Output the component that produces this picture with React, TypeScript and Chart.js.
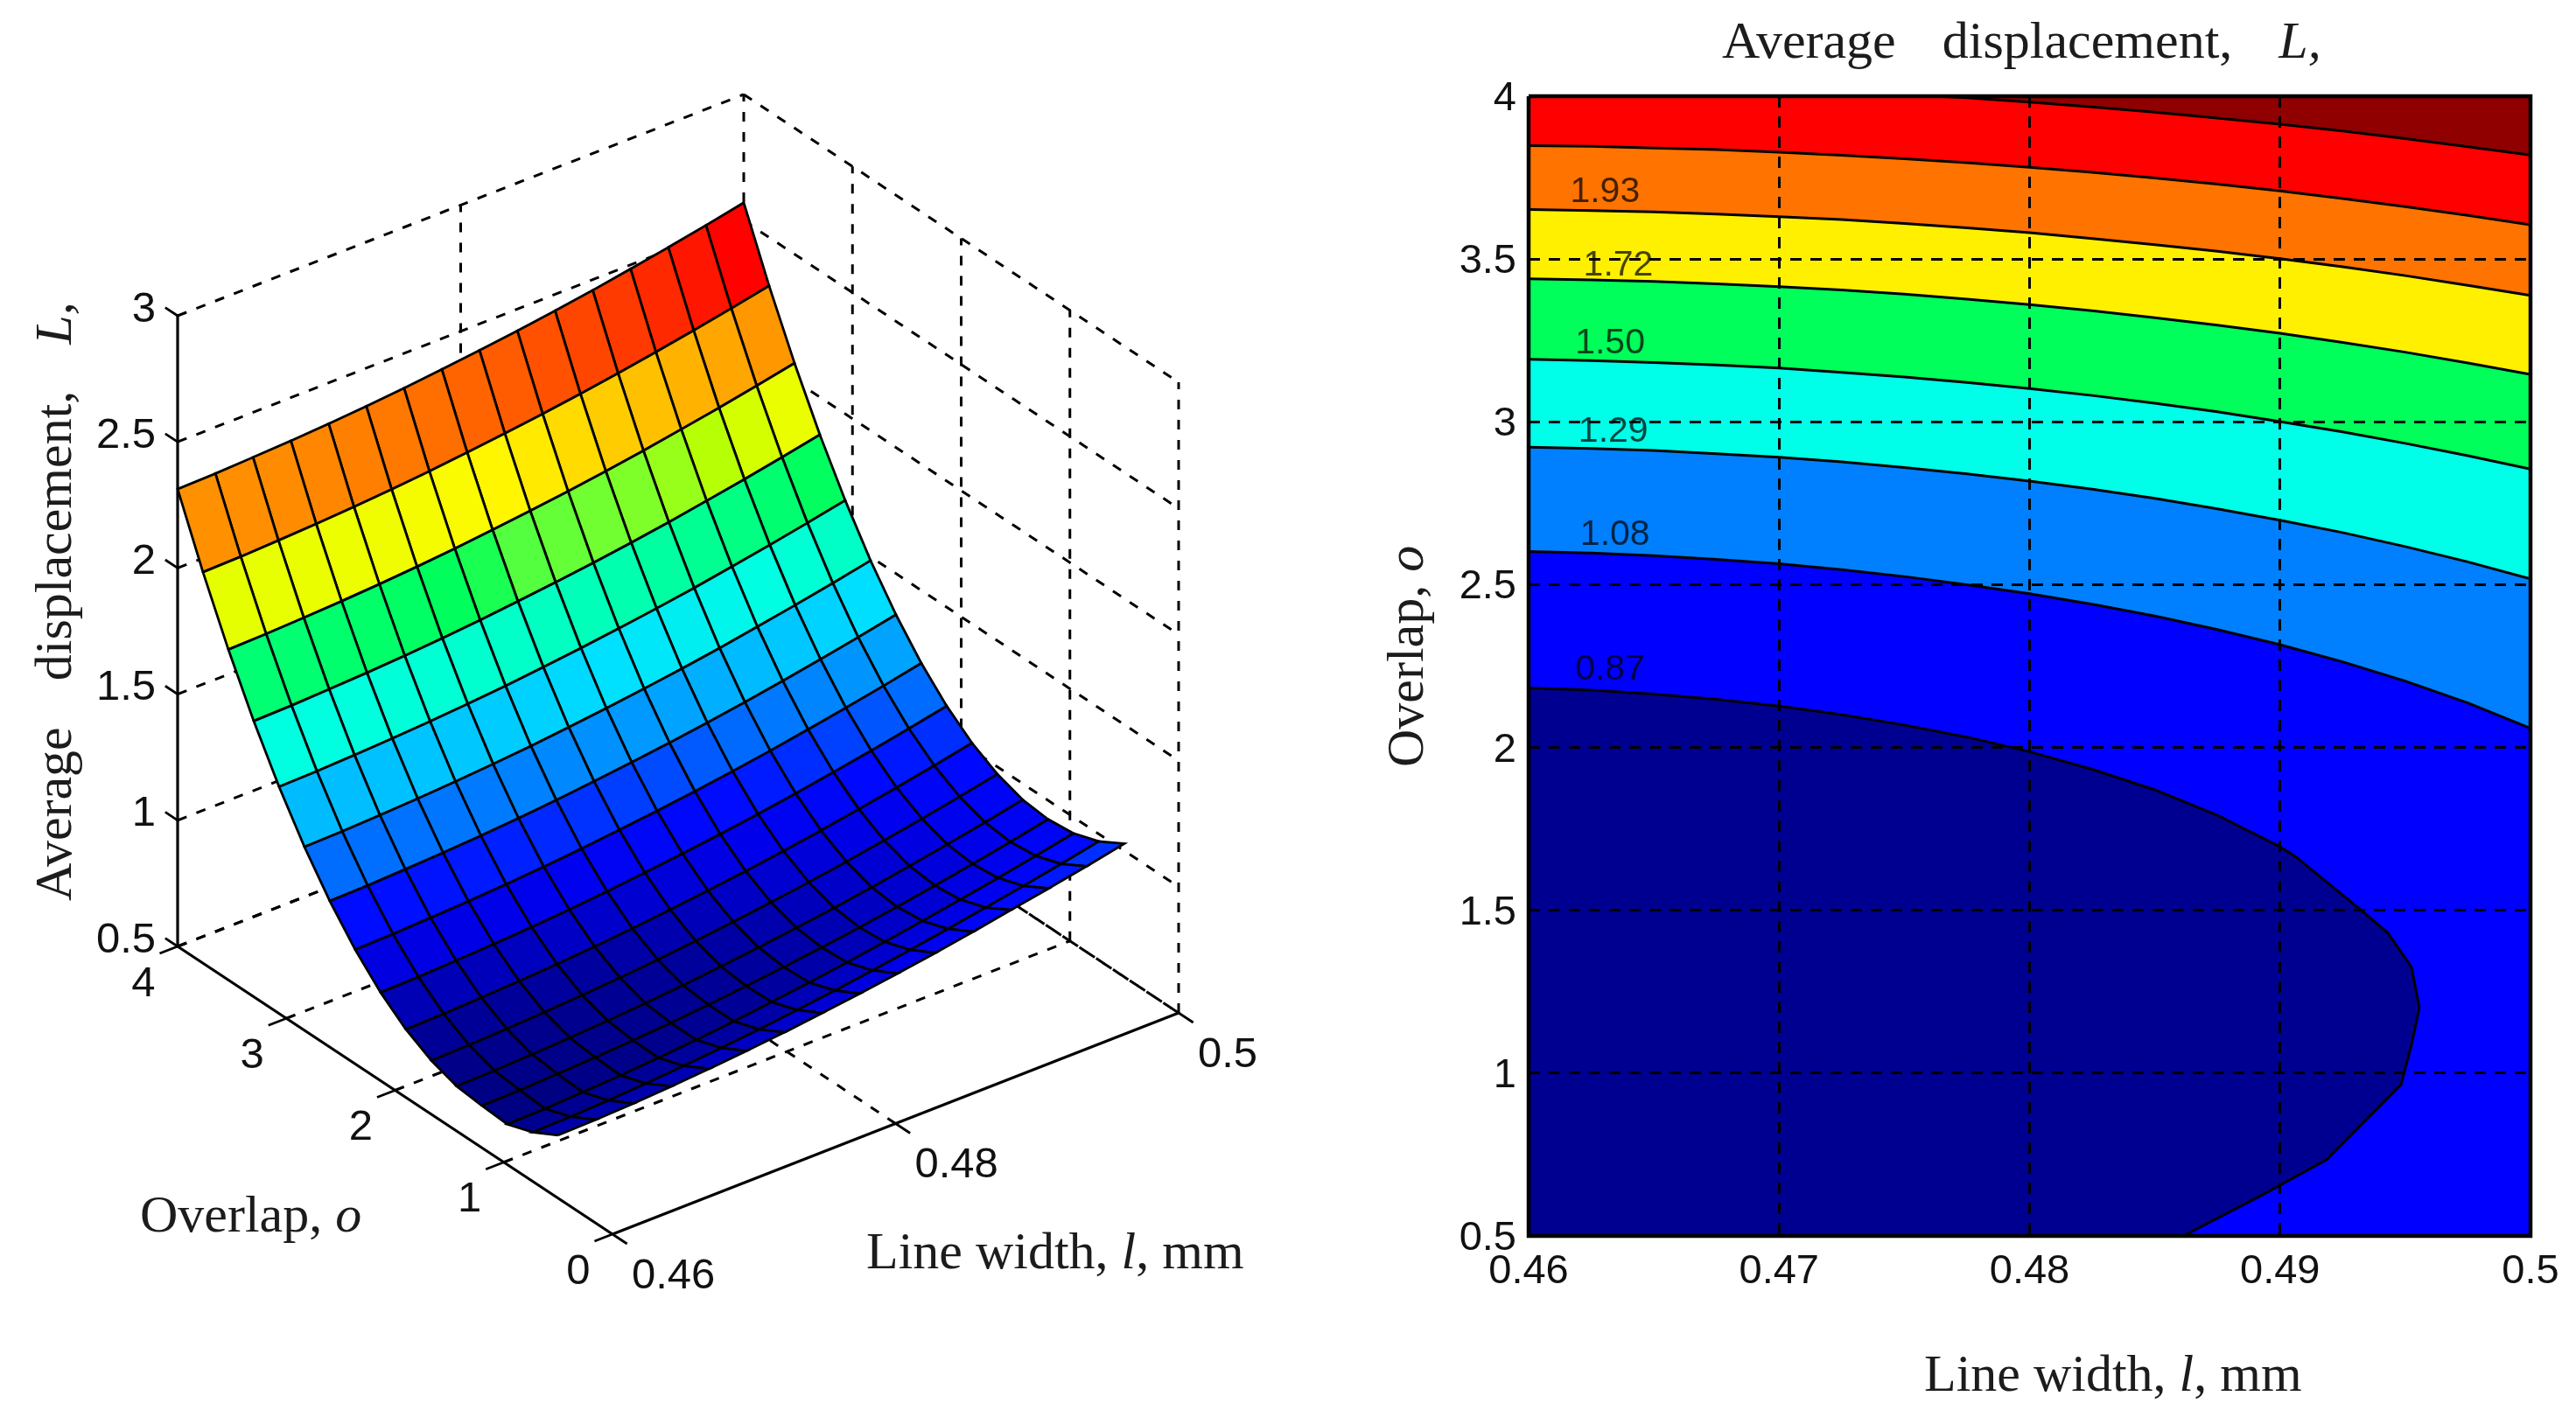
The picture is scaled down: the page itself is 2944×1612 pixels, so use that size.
import React, { useEffect, useRef } from "react";
import { Chart, registerables } from "chart.js";

Chart.register(...registerables);

// ---------- surface data ----------
const lineWidths = [0.46, 0.46267, 0.46533, 0.468, 0.47067, 0.47333, 0.476, 0.47867, 0.48133, 0.484, 0.48667, 0.48933, 0.492, 0.49467, 0.49733, 0.5];
const overlaps = [0.5, 0.7333, 0.9667, 1.2, 1.4333, 1.6667, 1.9, 2.1333, 2.3667, 2.6, 2.8333, 3.0667, 3.3, 3.5333, 3.7667, 4];
const surfaceZ = [
  [0.750, 0.753, 0.759, 0.768, 0.779, 0.792, 0.807, 0.825, 0.844, 0.865, 0.888, 0.913, 0.941, 0.968, 0.997, 1.028],
  [0.695, 0.698, 0.704, 0.713, 0.724, 0.737, 0.752, 0.770, 0.789, 0.810, 0.833, 0.858, 0.884, 0.911, 0.940, 0.971],
  [0.660, 0.663, 0.670, 0.678, 0.689, 0.702, 0.717, 0.735, 0.754, 0.775, 0.798, 0.823, 0.849, 0.876, 0.905, 0.936],
  [0.667, 0.670, 0.676, 0.683, 0.692, 0.703, 0.716, 0.732, 0.749, 0.768, 0.789, 0.812, 0.838, 0.865, 0.894, 0.925],
  [0.678, 0.681, 0.687, 0.694, 0.703, 0.714, 0.727, 0.743, 0.760, 0.779, 0.800, 0.823, 0.849, 0.876, 0.905, 0.936],
  [0.713, 0.716, 0.722, 0.729, 0.738, 0.749, 0.762, 0.778, 0.795, 0.814, 0.835, 0.858, 0.884, 0.911, 0.940, 0.971],
  [0.770, 0.773, 0.779, 0.786, 0.795, 0.806, 0.819, 0.835, 0.852, 0.871, 0.892, 0.915, 0.941, 0.968, 0.997, 1.028],
  [0.850, 0.853, 0.859, 0.866, 0.875, 0.886, 0.899, 0.915, 0.932, 0.951, 0.972, 0.995, 1.021, 1.048, 1.077, 1.108],
  [0.953, 0.956, 0.962, 0.969, 0.978, 0.989, 1.002, 1.018, 1.035, 1.054, 1.075, 1.098, 1.124, 1.151, 1.180, 1.211],
  [1.079, 1.082, 1.088, 1.095, 1.104, 1.115, 1.128, 1.144, 1.161, 1.180, 1.201, 1.224, 1.250, 1.277, 1.306, 1.337],
  [1.227, 1.230, 1.236, 1.243, 1.252, 1.263, 1.276, 1.292, 1.309, 1.328, 1.349, 1.372, 1.398, 1.425, 1.454, 1.485],
  [1.399, 1.402, 1.408, 1.415, 1.424, 1.435, 1.448, 1.464, 1.481, 1.500, 1.521, 1.544, 1.570, 1.597, 1.626, 1.657],
  [1.593, 1.596, 1.602, 1.609, 1.618, 1.629, 1.642, 1.658, 1.675, 1.694, 1.715, 1.738, 1.764, 1.791, 1.820, 1.851],
  [1.810, 1.813, 1.819, 1.826, 1.835, 1.846, 1.859, 1.875, 1.892, 1.911, 1.932, 1.955, 1.981, 2.008, 2.037, 2.068],
  [2.050, 2.053, 2.059, 2.066, 2.075, 2.086, 2.099, 2.115, 2.132, 2.151, 2.172, 2.195, 2.221, 2.248, 2.277, 2.308],
  [2.313, 2.316, 2.322, 2.329, 2.338, 2.349, 2.362, 2.378, 2.395, 2.414, 2.435, 2.458, 2.484, 2.511, 2.540, 2.571],
];
const zTicks = [0.5, 1, 1.5, 2, 2.5, 3];
const overlapTicks3d = [0, 1, 2, 3, 4];
const lineWidthTicks3d = [0.46, 0.48, 0.5];

// colour table read from the surface cells
const colourZ = [0.66, 0.74, 0.80, 0.87, 0.95, 1.08, 1.23, 1.31, 1.40, 1.50, 1.60, 1.635, 1.66, 1.72, 1.77, 1.81, 1.87, 1.93, 2.05, 2.115, 2.2, 2.28, 2.6];
const colourR = [0, 0, 0, 0, 0, 0, 0, 0, 0, 0, 0, 0, 90, 130, 190, 230, 255, 255, 255, 255, 255, 255, 255];
const colourG = [0, 0, 0, 0, 10, 110, 190, 225, 255, 255, 255, 255, 255, 255, 255, 255, 250, 205, 145, 100, 55, 0, 0];
const colourB = [130, 160, 200, 235, 255, 255, 255, 255, 225, 175, 110, 90, 60, 40, 0, 0, 0, 0, 0, 0, 0, 0, 0];

// ---------- contour data ----------
const contourL = [0.46, 0.4625, 0.465, 0.4675, 0.47, 0.4725, 0.475, 0.4775, 0.48, 0.4825, 0.485, 0.4875, 0.49, 0.4925, 0.495, 0.4975, 0.5];
const aL = [0.4762, 0.4775, 0.48, 0.4825, 0.485, 0.4875, 0.49, 0.4925, 0.495, 0.4975, 0.5];
const aO = [4, 3.995, 3.982, 3.967, 3.951, 3.933, 3.914, 3.893, 3.87, 3.845, 3.819];
const bO = [3.848, 3.846, 3.841, 3.836, 3.828, 3.819, 3.808, 3.796, 3.782, 3.766, 3.749, 3.73, 3.709, 3.686, 3.661, 3.634, 3.605];
const cO = [3.652, 3.649, 3.645, 3.638, 3.63, 3.621, 3.609, 3.596, 3.581, 3.563, 3.544, 3.524, 3.501, 3.476, 3.449, 3.419, 3.388];
const dO = [3.439, 3.436, 3.431, 3.424, 3.415, 3.405, 3.392, 3.377, 3.36, 3.341, 3.32, 3.297, 3.272, 3.244, 3.214, 3.181, 3.146];
const eO = [3.192, 3.188, 3.182, 3.175, 3.165, 3.152, 3.138, 3.121, 3.102, 3.081, 3.057, 3.031, 3.001, 2.969, 2.934, 2.896, 2.855];
const fO = [2.922, 2.918, 2.912, 2.902, 2.891, 2.877, 2.86, 2.84, 2.818, 2.793, 2.765, 2.733, 2.698, 2.66, 2.617, 2.57, 2.518];
const gO = [2.602, 2.597, 2.589, 2.578, 2.564, 2.546, 2.525, 2.5, 2.472, 2.44, 2.404, 2.362, 2.316, 2.263, 2.204, 2.137, 2.059];
const hL = [0.46, 0.4625, 0.465, 0.4675, 0.47, 0.4725, 0.475, 0.4775, 0.48, 0.4825, 0.485, 0.4875, 0.49, 0.4906, 0.49326, 0.49431, 0.49525, 0.49556, 0.49525, 0.49483, 0.49186, 0.48924, 0.48613];
const hO = [2.183, 2.176, 2.164, 2.148, 2.127, 2.101, 2.069, 2.032, 1.987, 1.933, 1.87, 1.792, 1.695, 1.666, 1.499, 1.43, 1.325, 1.201, 1.088, 0.965, 0.734, 0.624, 0.5];
const bandColours = ["#ff0000", "#ff7300", "#fff000", "#00ff5a", "#00ffe8", "#0080ff", "#0000ff", "#000090"];
const topColour = "#900000";
const levelLabels = ["1.93", "1.72", "1.50", "1.29", "1.08", "0.87"];
const levelLabelL = [0.46305, 0.46358, 0.46325, 0.46338, 0.46345, 0.46325];
const levelLabelO = [3.71, 3.484, 3.245, 2.974, 2.657, 2.243];

// ---------- layout ----------
const W = 2944;
const H = 1612;
const LEFT_W = 1560;
const SERIF = '"Liberation Serif"';
const SANS = '"Liberation Sans"';
const TEXT = "#1c1c1c";

const project = (l: number, o: number, z: number) => {
  const tl = (l - 0.46) / 0.04;
  const to = o / 4;
  return {
    x: 700 + 647 * tl - 497 * to,
    y: 1411 - 253 * tl - 329 * to - 288.4 * (z - 0.5),
  };
};

const colourOf = (z: number) => {
  let k = 0;
  while (k < colourZ.length - 2 && z > colourZ[k + 1]) k++;
  const f = Math.max(0, Math.min(1, (z - colourZ[k]) / (colourZ[k + 1] - colourZ[k])));
  const m = (a: number[]) => Math.round(a[k] + (a[k + 1] - a[k]) * f);
  return `rgb(${m(colourR)},${m(colourG)},${m(colourB)})`;
};

type Run = { t: string; italic?: boolean; gap?: number };
const drawRuns = (ctx: CanvasRenderingContext2D, runs: Run[], x: number, y: number, size: number, rot = 0) => {
  ctx.save();
  ctx.translate(x, y);
  ctx.rotate(rot);
  ctx.fillStyle = TEXT;
  ctx.textBaseline = "middle";
  ctx.textAlign = "left";
  let cx = 0;
  for (const r of runs) {
    ctx.font = `${r.italic ? "italic " : ""}${size}px ${SERIF}`;
    ctx.fillText(r.t, cx, 0);
    cx += ctx.measureText(r.t).width + (r.gap || 0);
  }
  ctx.restore();
};

const avgRuns: Run[] = [{ t: "Average", gap: 53 }, { t: "displacement,", gap: 53 }, { t: "L,", italic: true }];
const overlapRuns: Run[] = [{ t: "Overlap, " }, { t: "o", italic: true }];
const widthRuns: Run[] = [{ t: "Line width, " }, { t: "l", italic: true }, { t: ", mm" }];

const line = (pts: { x: number; y: number }[], dashed: boolean, width = 3) => ({
  type: "scatter" as const,
  data: pts,
  showLine: true,
  fill: false,
  borderColor: "#000",
  borderWidth: width,
  borderDash: dashed ? [11, 12] : [],
  pointRadius: 0,
  tension: 0,
  clip: false as any,
});

const buildSurfaceDatasets = () => {
  const back: any[] = [];
  const lo = lineWidthTicks3d[0];
  const hi = lineWidthTicks3d[lineWidthTicks3d.length - 1];
  const oMax = overlapTicks3d[overlapTicks3d.length - 1];
  const zLo = zTicks[0];
  const zHi = zTicks[zTicks.length - 1];
  for (const z of zTicks) {
    back.push(line([project(lo, oMax, z), project(hi, oMax, z)], true));
    back.push(line([project(hi, oMax, z), project(hi, 0, z)], true));
  }
  for (const l of lineWidthTicks3d.slice(1)) {
    back.push(line([project(l, oMax, zLo), project(l, oMax, zHi)], true));
    back.push(line([project(l, 0, zLo), project(l, oMax, zLo)], true));
  }
  for (const o of overlapTicks3d.slice(0, -1)) {
    back.push(line([project(hi, o, zLo), project(hi, o, zHi)], true));
    if (o > 0) back.push(line([project(lo, o, zLo), project(hi, o, zLo)], true));
  }
  back.push(line([project(lo, oMax, zLo), project(hi, oMax, zLo)], true));

  const cells: any[] = [];
  for (let j = overlaps.length - 2; j >= 0; j--) {
    for (let i = lineWidths.length - 2; i >= 0; i--) {
      const c = [
        project(lineWidths[i], overlaps[j], surfaceZ[j][i]),
        project(lineWidths[i + 1], overlaps[j], surfaceZ[j][i + 1]),
        project(lineWidths[i + 1], overlaps[j + 1], surfaceZ[j + 1][i + 1]),
        project(lineWidths[i], overlaps[j + 1], surfaceZ[j + 1][i]),
      ];
      cells.push({
        data: [...c, c[0]],
        showLine: true,
        fill: "shape",
        backgroundColor: colourOf(surfaceZ[j][i]),
        borderColor: "#000",
        borderWidth: 2.8,
        pointRadius: 0,
        tension: 0,
        clip: false,
      });
    }
  }

  const front: any[] = [];
  front.push(line([project(lo, oMax, zLo), project(lo, oMax, zHi)], false, 3.2));
  front.push(line([project(lo, 0, zLo), project(lo, oMax, zLo)], false, 3.2));
  front.push(line([project(lo, 0, zLo), project(hi, 0, zLo)], false, 3.2));
  for (const z of zTicks) front.push(line([project(lo, oMax, z), project(lo, oMax + 0.114, z)], false, 2.8));
  for (const o of overlapTicks3d) front.push(line([project(lo, o, zLo), project(lo - 0.00127, o, zLo)], false, 2.8));
  for (const l of lineWidthTicks3d) front.push(line([project(l, 0, zLo), project(l, -0.134, zLo)], false, 2.8));

  // first dataset in the list is painted last
  return [...back, ...cells, ...front].reverse();
};

const surfaceText = {
  id: "surfaceText",
  afterDraw(chart: any) {
    const ctx = chart.ctx as CanvasRenderingContext2D;
    ctx.save();
    ctx.fillStyle = "#111";
    ctx.font = `49px ${SANS}`;
    ctx.textBaseline = "middle";
    ctx.textAlign = "right";
    for (const z of zTicks) {
      const p = project(0.46, 4, z);
      ctx.fillText(String(z), 178, p.y - 7);
    }
    ctx.textAlign = "center";
    for (const o of overlapTicks3d) {
      const p = project(0.46, o, 0.5);
      ctx.fillText(String(o), p.x - 39, p.y + 43);
    }
    ctx.textAlign = "left";
    for (const l of lineWidthTicks3d) {
      const p = project(l, 0, 0.5);
      ctx.fillText(String(l), p.x + 22, p.y + 48);
    }
    ctx.restore();
    drawRuns(ctx, avgRuns, 65, 1030, 60, -Math.PI / 2);
    drawRuns(ctx, overlapRuns, 160, 1392, 60);
    drawRuns(ctx, widthRuns, 990, 1434, 60);
  },
};

const region = (ls: number[], os: number[], xMin: number, xMax: number, yMin: number) => {
  const pts = ls.map((l, i) => ({ x: l, y: os[i] }));
  const first = pts[0];
  const last = pts[pts.length - 1];
  const out = [...pts];
  if (last.x >= xMax && last.y > yMin) out.push({ x: xMax, y: yMin });
  if (first.x <= xMin) out.push({ x: xMin, y: yMin });
  else {
    out.push({ x: xMin, y: yMin }, { x: xMin, y: first.y });
  }
  out.push(first);
  return out;
};

const buildContourDatasets = () => {
  const xMin = 0.46, xMax = 0.5, yMin = 0.5, yMax = 4;
  const lines = [
    [aL, aO], [contourL, bO], [contourL, cO], [contourL, dO], [contourL, eO], [contourL, fO], [contourL, gO], [hL, hO],
  ];
  const out: any[] = [];
  const rect = [
    { x: xMin, y: yMax }, { x: xMax, y: yMax }, { x: xMax, y: yMin }, { x: xMin, y: yMin }, { x: xMin, y: yMax },
  ];
  out.push({ data: rect, showLine: true, fill: "shape", backgroundColor: topColour, borderWidth: 0, pointRadius: 0, tension: 0 });
  lines.forEach(([ls, os], k) => {
    out.push({
      data: region(ls, os, xMin, xMax, yMin),
      showLine: true,
      fill: "shape",
      backgroundColor: bandColours[k],
      borderWidth: 0,
      pointRadius: 0,
      tension: 0,
    });
    out.push({ ...line(ls.map((l, i) => ({ x: l, y: os[i] })), false, 3), clip: true as any });
  });
  out.push({ ...line(rect, false, 4.5) });
  return out.reverse();
};

const contourText = {
  id: "contourText",
  afterDraw(chart: any) {
    const ctx = chart.ctx as CanvasRenderingContext2D;
    const { x, y } = chart.scales;
    ctx.save();
    ctx.font = `41px ${SANS}`;
    ctx.fillStyle = "rgba(0,0,0,0.72)";
    ctx.textAlign = "center";
    ctx.textBaseline = "middle";
    levelLabels.forEach((t, i) => {
      ctx.fillText(t, x.getPixelForValue(levelLabelL[i]), y.getPixelForValue(levelLabelO[i]) + 2);
    });
    ctx.restore();
    drawRuns(ctx, avgRuns, 1968 - LEFT_W, 50, 60);
    drawRuns(ctx, overlapRuns, 1610 - LEFT_W, 877, 60, -Math.PI / 2);
    drawRuns(ctx, widthRuns, 2199 - LEFT_W, 1574, 60);
  },
};

export default function App() {
  const leftRef = useRef<HTMLCanvasElement>(null);
  const rightRef = useRef<HTMLCanvasElement>(null);

  useEffect(() => {
    const tickFmt = (v: any) => String(+Number(v).toFixed(2));
    const left = new Chart(leftRef.current!, {
      type: "scatter",
      data: { datasets: buildSurfaceDatasets() },
      options: {
        responsive: false,
        animation: false,
        events: [],
        layout: { padding: 0, autoPadding: false },
        plugins: { legend: { display: false }, tooltip: { enabled: false }, title: { display: false } },
        scales: {
          x: { type: "linear", min: 0, max: LEFT_W, display: false },
          y: { type: "linear", min: 0, max: H, reverse: true, display: false },
        },
      },
      plugins: [surfaceText],
    } as any);

    const right = new Chart(rightRef.current!, {
      type: "scatter",
      data: { datasets: buildContourDatasets() },
      options: {
        responsive: false,
        animation: false,
        events: [],
        layout: { padding: { top: 110, right: 52, left: 0, bottom: 0 }, autoPadding: false },
        plugins: { legend: { display: false }, tooltip: { enabled: false }, title: { display: false } },
        scales: {
          x: {
            type: "linear",
            min: 0.46,
            max: 0.5,
            afterFit: (s: any) => { s.height = H - 1413; },
            ticks: {
              stepSize: 0.01,
              callback: tickFmt,
              color: "#111",
              maxRotation: 0,
              autoSkip: false,
              padding: 13,
              font: { family: "Liberation Sans", size: 47 },
            },
            grid: { color: "#000", lineWidth: 3, drawTicks: false, z: 1 },
            border: { display: false, dash: [13, 10] },
          },
          y: {
            type: "linear",
            min: 0.5,
            max: 4,
            afterFit: (s: any) => { s.width = 1747 - LEFT_W; },
            ticks: {
              stepSize: 0.5,
              callback: tickFmt,
              color: "#111",
              autoSkip: false,
              padding: 14,
              labelOffset: 3,
              font: { family: "Liberation Sans", size: 47 },
            },
            grid: { color: "#000", lineWidth: 3, drawTicks: false, z: 1 },
            border: { display: false, dash: [13, 10] },
          },
        },
      },
      plugins: [contourText],
    } as any);

    return () => {
      left.destroy();
      right.destroy();
    };
  }, []);

  return (
    <div style={{ position: "fixed", left: 0, top: 0, width: W, height: H, background: "#fff", overflow: "hidden" }}>
      <canvas ref={leftRef} width={LEFT_W} height={H} style={{ position: "absolute", left: 0, top: 0, width: LEFT_W, height: H }} />
      <canvas ref={rightRef} width={W - LEFT_W} height={H} style={{ position: "absolute", left: LEFT_W, top: 0, width: W - LEFT_W, height: H }} />
    </div>
  );
}
